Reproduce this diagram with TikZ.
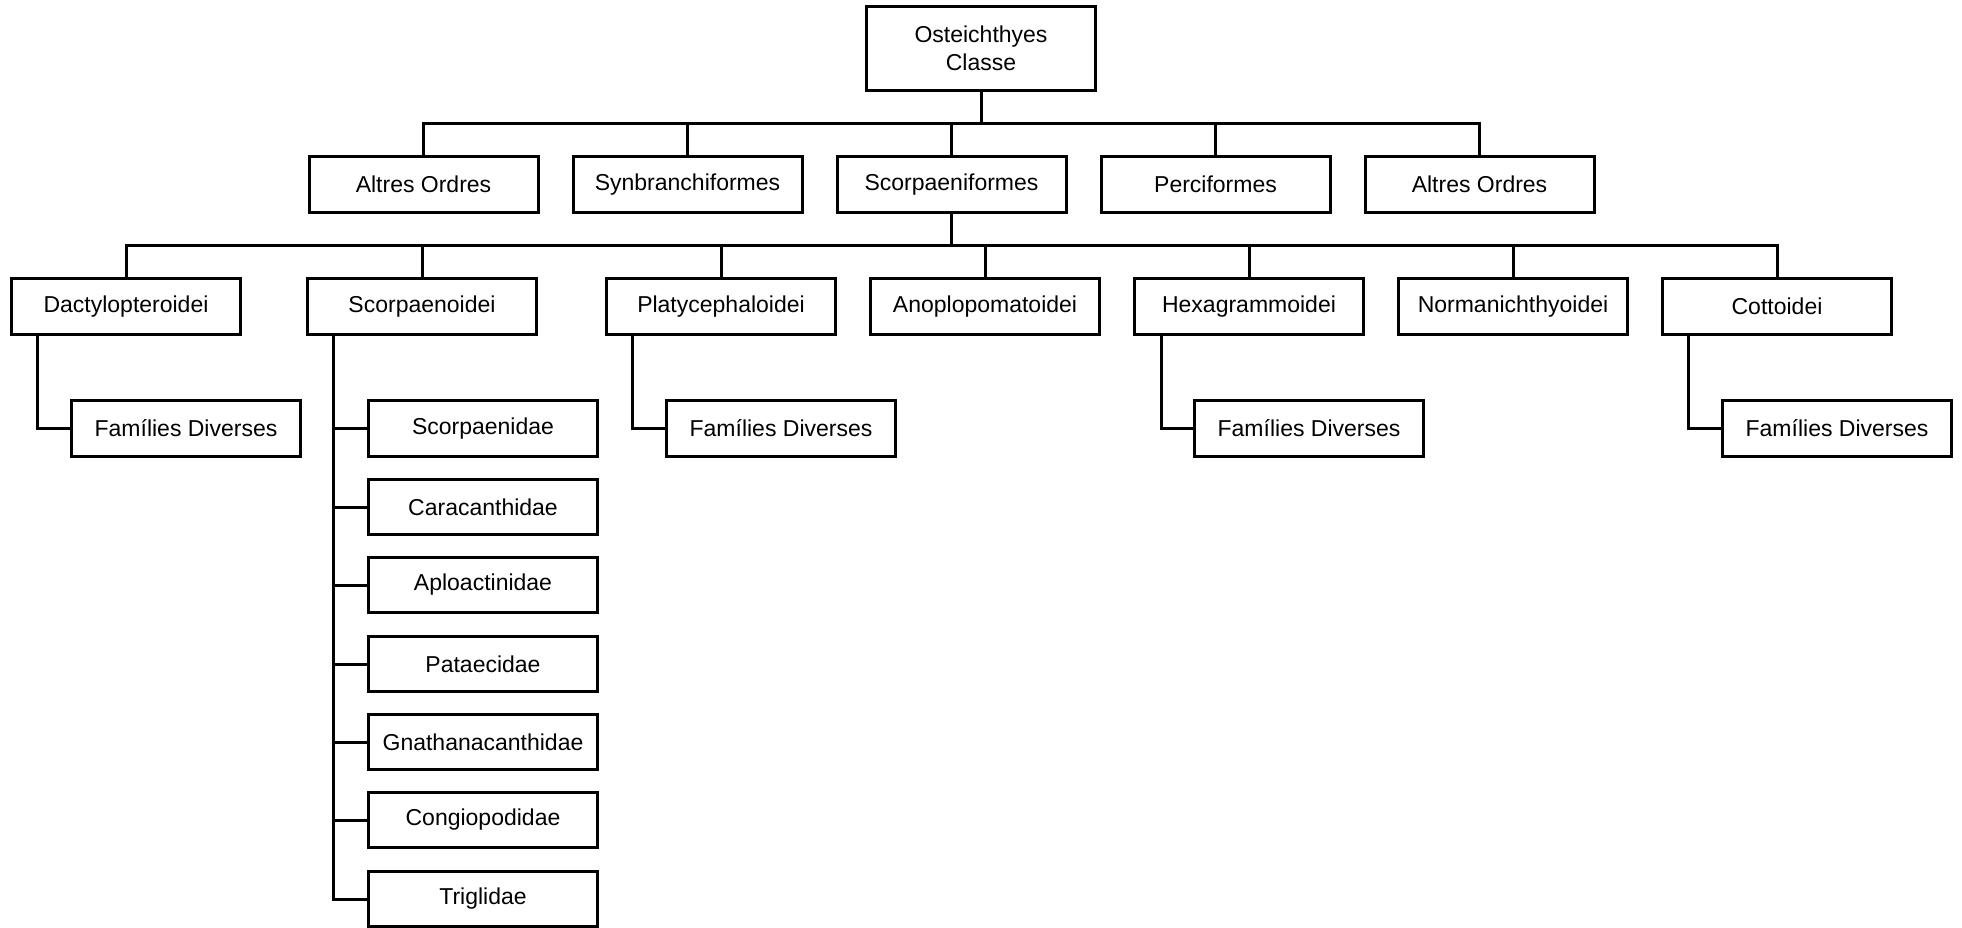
\documentclass[tikz,border=0pt]{standalone}
\usepackage{fontspec}
\setmainfont{Liberation Sans}
\usepackage{tikz}
\usetikzlibrary{calc}

\begin{document}
\begin{tikzpicture}[
        x=0.5pt, y=-0.5pt,
        every node/.style={font=\fontsize{11.5}{14}\selectfont},
        box/.style={draw, line width=1.5pt, minimum width=114.5pt,
                    minimum height=27.6pt, inner sep=0pt},
        link/.style={line width=1.5pt}
      ]
        \useasboundingbox (0,0) rectangle (1962,927);

        % Class
        \node[box, minimum height=42pt, align=center] (osteichthyes) at (981,48)
              {Osteichthyes\\Classe};

        % Orders
        \node[box] (altres1) at (423.5,184.5) {Altres Ordres};
        \node[box] (synbranch) at (687.5,184.5) {Synbranchiformes};
        \node[box] (scorpaeniformes) at (951.5,184.5) {Scorpaeniformes};
        \node[box] (perciformes) at (1215.5,184.5) {Perciformes};
        \node[box] (altres2) at (1479.5,184.5) {Altres Ordres};

        \coordinate (bus1) at (981,123);
        \draw[link] (osteichthyes) -- (bus1);
        \draw[link] (bus1) -| (altres1.north);
        \draw[link] (bus1) -| (synbranch.north);
        \draw[link] (bus1) -| (scorpaeniformes.north);
        \draw[link] (bus1) -| (perciformes.north);
        \draw[link] (bus1) -| (altres2.north);

        % Suborders
        \node[box] (dactylo) at (126,306.5) {Dactylopteroidei};
        \node[box] (scorpaenoidei) at (422,306.5) {Scorpaenoidei};
        \node[box] (platy) at (721,306.5) {Platycephaloidei};
        \node[box] (anoplo) at (985,306.5) {Anoplopomatoidei};
        \node[box] (hexa) at (1249,306.5) {Hexagrammoidei};
        \node[box] (normani) at (1513,306.5) {Normanichthyoidei};
        \node[box] (cotto) at (1777,306.5) {Cottoidei};

        \coordinate (bus2) at (951.5,245);
        \draw[link] (scorpaeniformes) -- (bus2);
        \draw[link] (bus2) -| (dactylo.north);
        \draw[link] (bus2) -| (scorpaenoidei.north);
        \draw[link] (bus2) -| (platy.north);
        \draw[link] (bus2) -| (anoplo.north);
        \draw[link] (bus2) -| (hexa.north);
        \draw[link] (bus2) -| (normani.north);
        \draw[link] (bus2) -| (cotto.north);

        % Families
        \node[box] (famDactylo) at (186,428.5) {Famílies Diverses};
        \node[box] (famPlaty) at (781,428.5) {Famílies Diverses};
        \node[box] (famHexa) at (1309,428.5) {Famílies Diverses};
        \node[box] (famCotto) at (1837,428.5) {Famílies Diverses};

        \draw[link] ($(dactylo.south west)+(27,0)$) |- (famDactylo.west);
        \draw[link] ($(platy.south west)+(27,0)$) |- (famPlaty.west);
        \draw[link] ($(hexa.south west)+(28,0)$) |- (famHexa.west);
        \draw[link] ($(cotto.south west)+(27,0)$) |- (famCotto.west);

        % Scorpaenoidei families
        \node[box] (scorpaenidae) at (483,428.5) {Scorpaenidae};
        \node[box] (caracanthidae) at (483,507) {Caracanthidae};
        \node[box] (aploactinidae) at (483,585) {Aploactinidae};
        \node[box] (pataecidae) at (483,664) {Pataecidae};
        \node[box] (gnathanacanthidae) at (483,742) {Gnathanacanthidae};
        \node[box] (congiopodidae) at (483,820) {Congiopodidae};
        \node[box] (triglidae) at (483,899) {Triglidae};

        \coordinate (spine) at ($(scorpaenoidei.south west)+(27,0)$);
        \draw[link] (spine) |- (scorpaenidae.west);
        \draw[link] (spine) |- (caracanthidae.west);
        \draw[link] (spine) |- (aploactinidae.west);
        \draw[link] (spine) |- (pataecidae.west);
        \draw[link] (spine) |- (gnathanacanthidae.west);
        \draw[link] (spine) |- (congiopodidae.west);
        \draw[link] (spine) |- (triglidae.west);
      \end{tikzpicture}
\end{document}
